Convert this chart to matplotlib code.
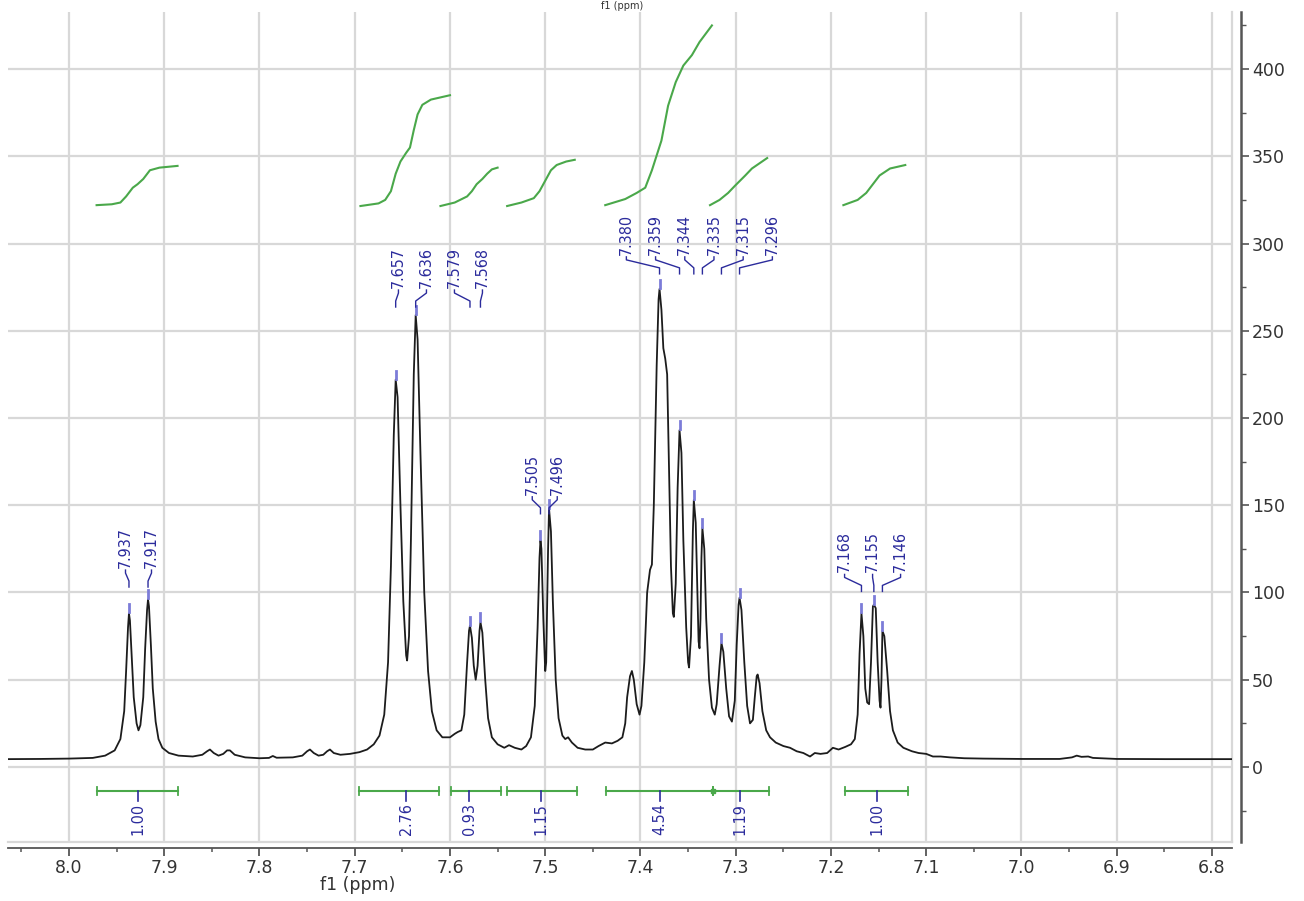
import numpy as np
import matplotlib
matplotlib.use('Agg')
import matplotlib.pyplot as plt
from matplotlib.ticker import MultipleLocator, FormatStrFormatter

# ── Spectrum trace: (shift in ppm, intensity) ─────────────
SPECTRUM = [
    (8.064, 4.5), (8.030, 4.6), (8.000, 4.8), (7.975, 5.2), (7.962, 6.5),
    (7.952, 9.5), (7.946, 16), (7.942, 32), (7.940, 55), (7.938, 80),
    (7.937, 88), (7.936, 84), (7.934, 62), (7.932, 40), (7.929, 25),
    (7.927, 21), (7.925, 24), (7.922, 40), (7.920, 68), (7.918, 90),
    (7.917, 96), (7.916, 92), (7.914, 70), (7.912, 45), (7.909, 26),
    (7.906, 16), (7.902, 11), (7.895, 8), (7.885, 6.5), (7.870, 6),
    (7.860, 7), (7.855, 9), (7.852, 10), (7.848, 8), (7.843, 6.5),
    (7.838, 7.5), (7.834, 9.5), (7.831, 9.5), (7.826, 7), (7.815, 5.5),
    (7.800, 5), (7.790, 5.2), (7.786, 6.3), (7.782, 5.3), (7.765, 5.5),
    (7.755, 6.5), (7.750, 9), (7.747, 10), (7.743, 8), (7.738, 6.5),
    (7.733, 7), (7.729, 9), (7.726, 10), (7.722, 8), (7.715, 7),
    (7.705, 7.5), (7.695, 8.5), (7.687, 10), (7.680, 13), (7.674, 18),
    (7.669, 30), (7.665, 60), (7.662, 115), (7.659, 190), (7.657, 222),
    (7.655, 212), (7.652, 150), (7.649, 95), (7.646, 64), (7.645, 61),
    (7.643, 75), (7.641, 130), (7.638, 225), (7.636, 259), (7.634, 245),
    (7.631, 180), (7.627, 100), (7.623, 55), (7.619, 32), (7.614, 21),
    (7.608, 17), (7.600, 17), (7.595, 19), (7.592, 20), (7.588, 21),
    (7.585, 30), (7.582, 60), (7.580, 78), (7.579, 81), (7.577, 74),
    (7.575, 58), (7.573, 50), (7.571, 58), (7.569, 78), (7.568, 83),
    (7.566, 77), (7.563, 50), (7.560, 28), (7.556, 17), (7.550, 13),
    (7.543, 11), (7.538, 12.5), (7.532, 11), (7.525, 10), (7.520, 12),
    (7.515, 17), (7.511, 35), (7.508, 80), (7.506, 120), (7.505, 130),
    (7.504, 125), (7.502, 85), (7.500, 55), (7.499, 60), (7.497, 125),
    (7.496, 148), (7.494, 135), (7.492, 95), (7.489, 50), (7.486, 28),
    (7.482, 18), (7.479, 16), (7.476, 17), (7.472, 14), (7.466, 11),
    (7.458, 10), (7.450, 10), (7.444, 12), (7.437, 14), (7.430, 13.5),
    (7.424, 15), (7.419, 17), (7.416, 25), (7.414, 40), (7.411, 52),
    (7.409, 55), (7.407, 50), (7.404, 36), (7.401, 30), (7.399, 35),
    (7.396, 60), (7.393, 100), (7.390, 113), (7.388, 116), (7.386, 150),
    (7.383, 230), (7.381, 268), (7.380, 274), (7.378, 262), (7.376, 240),
    (7.374, 234), (7.372, 225), (7.370, 170), (7.368, 115), (7.366, 88),
    (7.365, 86), (7.363, 105), (7.361, 160), (7.359, 193), (7.357, 180),
    (7.355, 130), (7.352, 80), (7.350, 60), (7.349, 57), (7.347, 75),
    (7.345, 135), (7.344, 153), (7.342, 140), (7.340, 95), (7.339, 72),
    (7.338, 68), (7.337, 85), (7.336, 120), (7.335, 137), (7.333, 125),
    (7.331, 85), (7.328, 50), (7.325, 34), (7.322, 30), (7.320, 36),
    (7.317, 58), (7.315, 71), (7.313, 66), (7.310, 45), (7.307, 29),
    (7.304, 26), (7.301, 38), (7.299, 70), (7.297, 93), (7.296, 97),
    (7.294, 90), (7.291, 60), (7.288, 35), (7.285, 25), (7.282, 27),
    (7.280, 40), (7.278, 52), (7.277, 53), (7.275, 48), (7.272, 32),
    (7.268, 21), (7.264, 17), (7.258, 14), (7.250, 12), (7.243, 11),
    (7.236, 9), (7.229, 8), (7.222, 6), (7.217, 8), (7.211, 7.5),
    (7.204, 8), (7.198, 11), (7.192, 10), (7.185, 11.5), (7.179, 13),
    (7.175, 16), (7.172, 30), (7.170, 65), (7.168, 88), (7.166, 75),
    (7.164, 45), (7.162, 37), (7.160, 36), (7.158, 60), (7.156, 92),
    (7.155, 93), (7.153, 91), (7.151, 60), (7.149, 38), (7.148, 34),
    (7.147, 50), (7.146, 78), (7.144, 75), (7.141, 55), (7.138, 32),
    (7.135, 21), (7.130, 14), (7.124, 11), (7.115, 9), (7.108, 8),
    (7.100, 7.5), (7.093, 6), (7.085, 6), (7.075, 5.5), (7.060, 5),
    (7.040, 4.8), (7.000, 4.6), (6.960, 4.6), (6.947, 5.5), (6.942, 6.5),
    (6.937, 5.8), (6.930, 6), (6.925, 5.2), (6.900, 4.6), (6.850, 4.5),
    (6.779, 4.5),
]

# ── Peak picking (labelled shifts, grouped as annotated) ──
PEAK_GROUPS = [
    [7.937, 7.917],
    [7.657, 7.636, 7.579, 7.568],
    [7.505, 7.496],
    [7.380, 7.359, 7.344, 7.335, 7.315, 7.296],
    [7.168, 7.155, 7.146],
]

# ── Integration regions ───────────────────────────────────
INT_FROM  = [7.971, 7.696, 7.599, 7.540, 7.436, 7.324, 7.185]
INT_TO    = [7.886, 7.612, 7.546, 7.467, 7.324, 7.265, 7.119]
INT_MID   = [7.928, 7.646, 7.580, 7.504, 7.380, 7.296, 7.152]
INT_VALUE = [1.00, 2.76, 0.93, 1.15, 4.54, 1.19, 1.00]

# integral curves (ppm, height on the intensity scale)
CURVE_1 = [(7.971, 322), (7.955, 322.5), (7.946, 323.5), (7.940, 327),
           (7.933, 332), (7.928, 334), (7.922, 337), (7.915, 342),
           (7.905, 343.5), (7.886, 344.5)]
CURVE_2 = [(7.694, 321.5), (7.675, 323), (7.668, 325), (7.662, 330),
           (7.657, 340), (7.652, 347), (7.646, 352), (7.642, 355),
           (7.638, 365), (7.634, 374), (7.629, 379.5), (7.620, 382.5),
           (7.600, 385)]
CURVE_3 = [(7.610, 321.5), (7.595, 323.5), (7.582, 327), (7.577, 330),
           (7.572, 334), (7.566, 337), (7.561, 340), (7.556, 342.5),
           (7.550, 343.5)]
CURVE_4 = [(7.540, 321.5), (7.525, 323.5), (7.512, 326), (7.506, 330),
           (7.500, 336), (7.494, 342), (7.488, 345), (7.478, 347),
           (7.469, 348)]
CURVE_5 = [(7.437, 322), (7.416, 325.5), (7.404, 329), (7.395, 332),
           (7.388, 342), (7.378, 359), (7.371, 379), (7.363, 392.5),
           (7.355, 402), (7.346, 408), (7.338, 415.5), (7.325, 425)]
CURVE_6 = [(7.327, 322), (7.317, 325), (7.308, 329), (7.301, 333),
           (7.290, 339), (7.283, 343), (7.267, 349)]
CURVE_7 = [(7.187, 322), (7.172, 325), (7.163, 329), (7.156, 334),
           (7.149, 339), (7.138, 343), (7.122, 345)]

# ── Layout / style ────────────────────────────────────────
W, H      = 1304, 901
PX_PPM    = 952.5        # pixels per ppm
PX_INT    = 1.745        # pixels per intensity unit
XLIM      = (8.064, 6.779)
YLIM      = (-43, 432.7)
BLUE      = '#2b2b9c'
MARK      = '#7c7cd8'
GREEN     = '#4aa84a'
GRID      = '#d8d8d8'
AXIS      = '#555555'
TXT       = '#333333'
GROUP_BASE = [114, 274.5, 156, 293.5, 111.5]   # bottom of label text
GROUP_STEP = [26, 28, 25, 29.2, 28]            # label spacing in px
BAR_Y      = -13.8

plt.rcParams['font.family'] = ['DejaVu Sans']


def dy(px):
    return px / PX_INT


def dx(px):
    return px / PX_PPM


ppm = np.array([p for p, _ in SPECTRUM])
inten = np.array([v for _, v in SPECTRUM])

fig = plt.figure(figsize=(W / 100, H / 100), dpi=100)
ax = fig.add_axes([8 / W, 1 - 842 / H, (1232 - 8) / W, (842 - 12) / H])
ax.set_xlim(*XLIM)
ax.set_ylim(*YLIM)

# grid and the light plot frame
ax.xaxis.set_major_locator(MultipleLocator(0.1))
ax.xaxis.set_minor_locator(MultipleLocator(0.05))
ax.yaxis.set_major_locator(MultipleLocator(50))
ax.yaxis.set_minor_locator(MultipleLocator(25))
ax.grid(True, which='major', color=GRID, linewidth=1.6, zorder=0)
ax.set_axisbelow(True)
ax.plot([0, 1], [0, 0], transform=ax.transAxes, color=GRID,
        linewidth=1.6, clip_on=False, zorder=0)
ax.plot([1, 1], [0, 1], transform=ax.transAxes, color=GRID,
        linewidth=1.6, clip_on=False, zorder=0)

# axes: bottom ppm scale and right intensity scale, both offset
for side in ('left', 'top'):
    ax.spines[side].set_visible(False)
ax.spines['bottom'].set_position(('outward', 4.3))
ax.spines['right'].set_position(('outward', 6.5))
ax.spines['bottom'].set_color(AXIS)
ax.spines['right'].set_color(AXIS)
ax.spines['bottom'].set_linewidth(1.3)
ax.spines['right'].set_linewidth(1.8)
ax.yaxis.tick_right()
ax.xaxis.set_major_formatter(FormatStrFormatter('%.1f'))
ax.yaxis.set_major_formatter(FormatStrFormatter('%d'))
ax.tick_params(axis='x', which='major', length=6, width=1.3,
               color=AXIS, labelsize=12.5, labelcolor=TXT, pad=2)
ax.tick_params(axis='x', which='minor', length=3, width=1.1, color=AXIS)
ax.tick_params(axis='y', which='major', length=6, width=1.2,
               color=AXIS, labelsize=12.5, labelcolor=TXT, pad=2)
ax.tick_params(axis='y', which='minor', length=3.5, width=1.0,
               color=AXIS)

fig.text(358 / W, 1 - 885 / H, 'f1 (ppm)', ha='center', va='center',
         fontsize=12.5, color=TXT)
fig.text(622 / W, 1 - 1 / H, 'f1 (ppm)', ha='center', va='top',
         fontsize=7, color=TXT)

# ── Spectrum ──────────────────────────────────────────────
ax.plot(ppm, inten, color='#1c1c1c', linewidth=1.3, zorder=3)

# ── Peak labels with connectors and markers ───────────────
ppm_asc, int_asc = ppm[::-1], inten[::-1]
for peaks, base, step in zip(PEAK_GROUPS, GROUP_BASE, GROUP_STEP):
    n = len(peaks)
    center = np.mean(peaks)
    for i, p in enumerate(peaks):
        xt = center - (i - (n - 1) / 2) * dx(step)
        ax.text(xt, base, f'{p:.3f}', rotation=90, ha='center',
                va='bottom', fontsize=11.5, color=BLUE,
                fontstretch='condensed', zorder=5)
        ax.plot([xt, xt, p, p],
                [base - dy(2), base - dy(5), base - dy(13), base - dy(19)],
                color=BLUE, linewidth=1.0, zorder=5)
        top = np.interp(p, ppm_asc, int_asc)
        ax.plot([p, p], [top + dy(1), top + dy(9)], color=MARK,
                linewidth=2.0, zorder=4)

# ── Integral curves ───────────────────────────────────────
for curve in (CURVE_1, CURVE_2, CURVE_3, CURVE_4, CURVE_5, CURVE_6,
              CURVE_7):
    ax.plot([c[0] for c in curve], [c[1] for c in curve],
            color=GREEN, linewidth=1.5, zorder=3)

# ── Integration bars and values ───────────────────────────
for a, b, m, v in zip(INT_FROM, INT_TO, INT_MID, INT_VALUE):
    ax.plot([a, b], [BAR_Y, BAR_Y], color=GREEN, linewidth=1.5, zorder=3)
    for e in (a, b):
        ax.plot([e, e], [BAR_Y - dy(4), BAR_Y + dy(4)], color=GREEN,
                linewidth=1.3, zorder=3)
    ax.plot([m, m], [BAR_Y, BAR_Y - dy(10)], color=BLUE, linewidth=1.2,
            zorder=4)
    ax.text(m, BAR_Y - dy(12), f'{v:.2f}', rotation=90, ha='center',
            va='top', fontsize=11.5, color=BLUE,
            fontstretch='condensed', zorder=5)
shared = set(INT_FROM) & set(INT_TO)
for s in shared:
    ax.plot([s], [BAR_Y], marker='s', markersize=3.5, color=GREEN,
            zorder=4)

fig.savefig('out.png', dpi=100)
